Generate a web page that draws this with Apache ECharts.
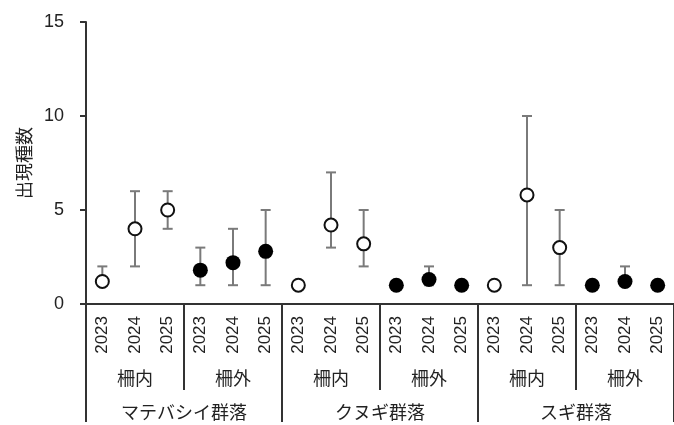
<!DOCTYPE html>
<html>
<head>
<meta charset="utf-8">
<script src="https://cdn.jsdelivr.net/npm/echarts@6/dist/echarts.min.js"></script>
<style>
  html, body { margin: 0; padding: 0; background: #fff; }
  #chart { width: 674px; height: 425px; }
</style>
</head>
<body>
<div id="chart"></div>
<script>
const communities = ['マテバシイ群落', 'クヌギ群落', 'スギ群落'];
const fences = ['柵内', '柵外'];
const years = ['2023', '2024', '2025'];

// 各カテゴリの平均と範囲（左から順に）
const means = [1.2, 4.0, 5.0, 1.8, 2.2, 2.8, 1.0, 4.2, 3.2, 1.0, 1.3, 1.0, 1.0, 5.8, 3.0, 1.0, 1.2, 1.0];
const lower = [1, 2, 4, 1, 1, 1, 1, 3, 2, 1, 1, 1, 1, 1, 1, 1, 1, 1];
const upper = [2, 6, 6, 3, 4, 5, 1, 7, 5, 1, 2, 1, 1, 10, 5, 1, 2, 1];

const yTicks = [0, 5, 10, 15];

const numFont = "'Liberation Sans', sans-serif";
const jpFont = "'Noto Sans CJK JP', sans-serif";
const axisColor = '#333';

// build axis categories
let yearCats = [], fenceCats = [];
communities.forEach(() => {
  fences.forEach(f => {
    fenceCats.push(f);
    years.forEach(y => yearCats.push(y));
  });
});

let insideData = [], outsideData = [], barData = [];
means.forEach((m, i) => {
  const isInside = Math.floor(i / 3) % 2 === 0;
  insideData.push(isInside ? m : null);
  outsideData.push(isInside ? null : m);
  barData.push([i, lower[i], upper[i]]);
});

let option = {
  animation: false,
  grid: { left: 86, top: 22, bottom: 121, right: -7 },
  xAxis: [
    {
      type: 'category',
      data: yearCats,
      position: 'bottom',
      axisLine: { show: true, lineStyle: { color: axisColor, width: 2 } },
      axisTick: { show: false },
      axisLabel: {
        interval: 0, rotate: 90, margin: 12,
        fontSize: 17, color: '#222', fontFamily: numFont
      }
    },
    {
      type: 'category',
      data: fenceCats,
      position: 'bottom',
      axisLine: { show: false },
      axisTick: { show: true, interval: 0, length: 86, lineStyle: { color: axisColor, width: 2 } },
      axisLabel: {
        interval: 0, margin: 74, verticalAlign: 'middle',
        fontSize: 18, color: '#222', fontFamily: jpFont
      }
    },
    {
      type: 'category',
      data: communities,
      position: 'bottom',
      axisLine: { show: false },
      axisTick: { show: true, interval: 0, length: 118, lineStyle: { color: axisColor, width: 2 } },
      axisLabel: {
        interval: 0, margin: 108, verticalAlign: 'middle',
        fontSize: 18, color: '#222', fontFamily: jpFont
      }
    }
  ],
  yAxis: {
    type: 'value',
    min: yTicks[0],
    max: yTicks[yTicks.length - 1],
    interval: 5,
    name: '出現種数',
    nameLocation: 'middle',
    nameGap: 47,
    nameRotate: 90,
    nameTextStyle: { fontSize: 18, color: '#222', fontFamily: jpFont },
    axisLine: { show: true, lineStyle: { color: axisColor, width: 2 } },
    axisTick: { show: true, length: 6, lineStyle: { color: axisColor, width: 2 } },
    axisLabel: { margin: 22, fontSize: 18, color: '#222', fontFamily: numFont },
    splitLine: { show: false }
  },
  series: [
    {
      type: 'custom',
      xAxisIndex: 0,
      data: barData,
      z: 1,
      renderItem: function (params, api) {
        const x = api.value(0);
        const top = api.coord([x, api.value(2)]);
        const bot = api.coord([x, api.value(1)]);
        const w = 5;
        const style = { stroke: '#7a7a7a', lineWidth: 2 };
        return {
          type: 'group',
          children: [
            { type: 'line', shape: { x1: top[0], y1: top[1], x2: bot[0], y2: bot[1] }, style: style },
            { type: 'line', shape: { x1: top[0] - w, y1: top[1], x2: top[0] + w, y2: top[1] }, style: style },
            { type: 'line', shape: { x1: bot[0] - w, y1: bot[1], x2: bot[0] + w, y2: bot[1] }, style: style }
          ]
        };
      }
    },
    {
      type: 'scatter',
      xAxisIndex: 0,
      data: insideData,
      symbol: 'circle',
      symbolSize: 13,
      z: 3,
      itemStyle: { color: '#fff', borderColor: '#111', borderWidth: 2, opacity: 1 }
    },
    {
      type: 'scatter',
      xAxisIndex: 0,
      data: outsideData,
      symbol: 'circle',
      symbolSize: 15,
      z: 3,
      itemStyle: { color: '#000', opacity: 1 }
    }
  ]
};

let myChart = echarts.init(document.getElementById('chart'));
myChart.setOption(option);
</script>
</body>
</html>
